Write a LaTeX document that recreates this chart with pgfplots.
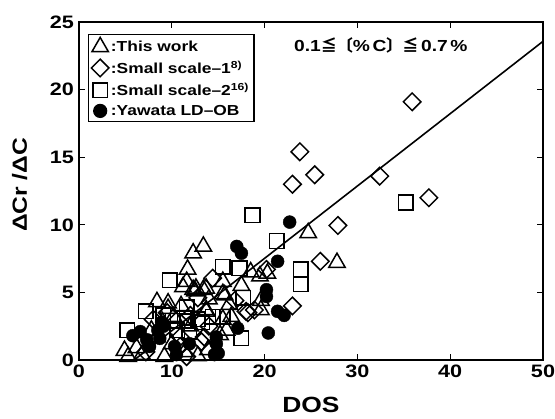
\documentclass[border=0pt]{standalone}
\usepackage{fontspec}
\setmainfont{Liberation Sans}
\newfontfamily\wide{Liberation Sans}[FakeStretch=1.2]
\newfontfamily\cjk{Noto Sans CJK JP}
\usepackage{pgfplots}
\pgfplotsset{compat=1.18}
\begin{document}
\begin{tikzpicture}
\begin{axis}[name=ax, at={(0,0)}, anchor=south west,
  width=464pt, height=338pt, scale only axis,
  xmin=0, xmax=50, ymin=0, ymax=25,
  xtick={0,10,...,50}, ytick={0,5,...,25},
  tick align=inside, major tick length=6pt,
  axis line style={line width=1.6pt},
  tick style={line width=1.2pt, black},
  ticklabel style={font=\wide\bfseries\fontsize{18}{18}\selectfont},
  yticklabel style={xshift=-1.5pt},
  xticklabel style={yshift=-1pt},
  /pgf/number format/assume math mode=true,
  xlabel={DOS},
  xlabel style={at={(axis description cs:0.5,-0.133)}, anchor=center, font=\wide\bfseries\fontsize{22}{22}\selectfont},
  ylabel={ΔCr /ΔC},
  ylabel style={at={(axis description cs:-0.128,0.518)}, anchor=center, font=\wide\bfseries\fontsize{20.5}{20.5}\selectfont},
  legend style={at={(0.019,0.965)}, anchor=north west, draw=black, line width=1.2pt,
    font=\wide\bfseries\fontsize{14.5}{14.5}\selectfont, inner xsep=3pt, inner ysep=3pt, row sep=4pt,
    /tikz/every even column/.append style={column sep=1pt}},
  legend cell align=left,
]
\addplot[black, line width=1.6pt, forget plot] coordinates {(6,0.03) (50,23.57)};

\addplot[only marks, mark=triangle, mark size=9.5pt, mark options={fill=white, draw=black, line width=1.5pt}] coordinates {
(24.7,9.4) (27.8,7.2) (12.3,7.9) (13.4,8.4) (19.5,6.2) (11.7,6.7) (15.5,5.8) (11.6,5.8)
(13.4,5.2) (12.3,5.2) (15.7,4.8) (19.6,4.4) (16.2,4.1) (19.6,3.7) (13.7,3.7) (16.4,3.2)
(15.2,1.85) (11.2,5.4) (12.6,5.3) (13.7,5.3) (15.5,4.9) (12.5,5.1) (8.4,4.3) (9.6,3.8)
(13.7,3.6) (15.5,3.0) (15.9,2.2) (7.8,2.2) (8.4,1.7) (4.9,0.7) (5.3,0.25) (6.2,0.9)
(9.2,0.25) (13.9,0.75) (9.6,4.2) (11.4,0.6) (10.2,3.2) (11.0,4.0) (14.0,4.5) (17.5,5.5)
(18.5,6.5) (20.3,6.4) (9.0,2.8) (12.0,2.5) (10.0,1.2) (6.8,0.4) (12.8,0.3)};
\addlegendentry{:This work}

\addplot[only marks, mark=square, mark size=6.2pt, mark options={rotate=45, fill=white, draw=black, line width=1.5pt}] coordinates {
(35.9,19.1) (23.8,15.4) (25.4,13.7) (23.0,13.0) (32.4,13.6) (37.7,12.0) (27.9,9.95) (26.0,7.3)
(20.2,6.7) (14.4,6.05) (23.0,4.0) (18.2,3.5) (18.9,3.7) (13.5,1.7) (10.9,1.0) (18.0,3.6)
(13.2,1.35) (11.6,0.25) (10.9,1.7) (12.8,4.6) (16.8,4.4) (9.5,3.5) (7.2,0.6) (14.0,2.5)
(8.0,3.0) (12.0,3.3)};
\addlegendentry{:Small scale–1\textsuperscript{8)}}

\addplot[only marks, mark=square, mark size=7.3pt, mark options={fill=white, draw=black, line width=1.5pt}] coordinates {
(35.2,11.65) (23.9,6.7) (23.9,5.6) (18.7,10.7) (21.3,8.8) (17.3,6.8) (15.5,6.9) (17.7,4.6)
(11.6,3.9) (14.4,3.2) (15.5,3.2) (17.5,1.6) (11.9,2.1) (11.4,3.1) (9.8,5.9) (7.2,3.6)
(11.6,2.9) (10.1,2.9) (5.2,2.2) (9.1,3.3) (12.8,3.0) (10.6,2.2) (13.3,2.8)};
\addlegendentry{:Small scale–2\textsuperscript{16)}}

\addplot[only marks, mark=*, mark size=6.5pt, mark options={fill=black, draw=black}] coordinates {
(22.7,10.2) (17.0,8.4) (17.5,7.9) (21.4,7.3) (20.2,5.2) (20.2,4.7) (21.4,3.6) (22.1,3.3)
(17.1,2.35) (20.4,2.0) (14.8,1.7) (14.8,1.2) (14.6,0.4) (6.6,2.1) (7.3,1.5) (7.6,1.0)
(9.1,2.5) (8.9,2.8) (10.3,1.0) (10.5,0.4) (11.9,1.2) (8.5,2.2) (8.7,1.6) (15.0,0.5) (5.8,1.8)};
\addlegendentry{:Yawata LD–OB}

\node[anchor=west, font=\wide\bfseries\fontsize{16}{16}\selectfont] at (axis cs:22.8,23.3)
  {0.1{\cjk\bfseries ≦}{\cjk\bfseries 〔}\%\,C{\cjk\bfseries 〕}{\cjk\bfseries ≦}\,0.7\,\%};
\end{axis}
\pgfresetboundingbox
\path ([shift={(-79pt,-58pt)}]ax.south west) rectangle ([shift={(12pt,22pt)}]ax.north east);
\end{tikzpicture}
\end{document}
